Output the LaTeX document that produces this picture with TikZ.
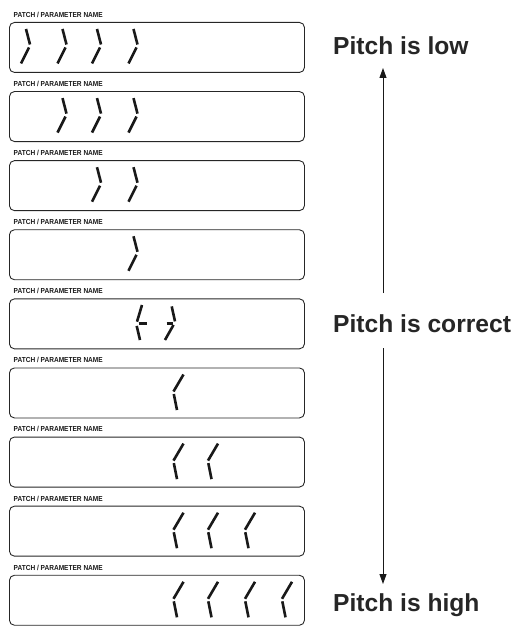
\documentclass[tikz,border=0pt]{standalone}
\usepackage{fontspec}
\setmainfont{Liberation Sans}
\usetikzlibrary{arrows.meta}
\newcommand\rdig[2]{%
  \draw[seg] (#1-4,#2+7) -- (#1,#2+22.5);
  \draw[seg] (#1-1,#2+25.5) -- (#1-9,#2+41.5);}
\newcommand\ldig[2]{%
  \draw[seg] (#1+10,#2+7) -- (#1,#2+24);
  \draw[seg] (#1+0.3,#2+26.5) -- (#1+3.5,#2+42.5);}
\begin{document}
\begin{tikzpicture}[x=1bp,y=-1bp,
  lcd/.style={draw=black!85, line width=0.9bp, rounded corners=5bp, minimum width=295bp, minimum height=50bp, anchor=north west, inner sep=0},
  seg/.style={line width=2.6bp, black!90},
  hdr/.style={anchor=base west, inner sep=0, font=\bfseries\fontsize{7.3}{7.3}\selectfont, text=black!90},
  pitch/.style={anchor=base west, inner sep=0, font=\bfseries\fontsize{24.7}{26}\selectfont, text=black!85},
  arr/.style={line width=0.9bp, draw=black!90, -{Triangle[length=10bp,width=7bp]}}]
\useasboundingbox (0,0) rectangle (521,631);
\foreach \k in {0,...,8}{
  \pgfmathsetmacro\ty{22+69.1*\k}
  \node[lcd] (b\k) at (9,\ty) {};
  \node[hdr] (h\k) at (13.5,\ty-4.7) {\scalebox{0.9}[1]{PATCH / PARAMETER NAME}};
}
% low pitch
\rdig{30}{22}\rdig{66.5}{22}\rdig{101}{22}\rdig{137.5}{22}
\rdig{66.5}{91.1}\rdig{101}{91.1}\rdig{137.5}{91.1}
\rdig{101}{160.2}\rdig{137.5}{160.2}
\rdig{137.5}{229.3}
% correct
\draw[seg] (142,298.4+6.6) -- (137,298.4+23.3);
\draw[seg] (136.7,298.4+27.5) -- (140,298.4+41.6);
\draw[seg] (138.5,298.4+24.8) -- (147,298.4+24.8);
\draw[seg] (171.7,298.4+8) -- (175,298.4+23);
\draw[seg] (173.5,298.4+26.5) -- (165,298.4+41.6);
\draw[seg] (166.5,298.4+24.8) -- (173,298.4+24.8);
% high pitch
\ldig{173.5}{367.5}
\ldig{173.5}{436.6}\ldig{208}{436.6}
\ldig{173.5}{505.7}\ldig{208}{505.7}\ldig{245}{505.7}
\ldig{173.5}{574.8}\ldig{208}{574.8}\ldig{245}{574.8}\ldig{282}{574.8}
% labels
\node[pitch] (low) at (333,55) {Pitch is low};
\node[pitch] (correct) at (333,332.5) {Pitch is correct};
\node[pitch] (high) at (333,611.5) {Pitch is high};
\coordinate (up0) at (383,293);
\coordinate (up1) at (383,68);
\coordinate (dn0) at (383,348);
\coordinate (dn1) at (383,584);
\draw[arr] (up0) -- (up1);
\draw[arr] (dn0) -- (dn1);
\end{tikzpicture}
\end{document}
